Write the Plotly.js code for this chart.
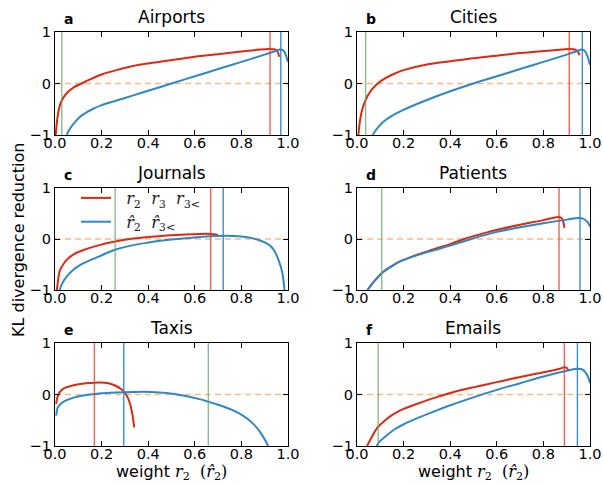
<!DOCTYPE html>
<html>
<head>
<meta charset="utf-8">
<script src="https://cdn.plot.ly/plotly-3.0.1.min.js"></script>
<style>
html,body{margin:0;padding:0;background:#fff;}
#chart{width:604px;height:485px;}
</style>
</head>
<body>
<div id="chart"></div>
<script>
// ---- data ----
const panelNames = ["Airports", "Cities", "Journals", "Patients", "Taxis", "Emails"];
const panelLetters = ["a", "b", "c", "d", "e", "f"];

// red curves: r2 r3 r3<   ; blue curves: r2^ r3<^
const redX_a = [0.003, 0.01, 0.021, 0.029, 0.05, 0.079, 0.114, 0.15, 0.2, 0.264, 0.336, 0.4, 0.48, 0.6, 0.7, 0.8, 0.88, 0.92, 0.945, 0.955, 0.962];
const redY_a = [-1.0, -0.68, -0.42, -0.33, -0.19, -0.08, 0.0, 0.08, 0.175, 0.26, 0.34, 0.39, 0.44, 0.52, 0.57, 0.62, 0.66, 0.67, 0.66, 0.62, 0.52];
const blueX_a = [0.05, 0.064, 0.093, 0.121, 0.16, 0.2, 0.264, 0.336, 0.4, 0.5, 0.6, 0.7, 0.8, 0.9, 0.94, 0.965, 0.98, 0.99, 1.0];
const blueY_a = [-1.0, -0.88, -0.71, -0.6, -0.5, -0.42, -0.33, -0.23, -0.14, 0.0, 0.14, 0.28, 0.42, 0.56, 0.62, 0.66, 0.64, 0.56, 0.42];

const redX_b = [0.006, 0.012, 0.02, 0.037, 0.06, 0.084, 0.12, 0.16, 0.2, 0.3, 0.4, 0.5, 0.6, 0.7, 0.8, 0.88, 0.91, 0.935, 0.948, 0.955];
const redY_b = [-1.0, -0.75, -0.55, -0.32, -0.14, -0.02, 0.1, 0.19, 0.26, 0.37, 0.43, 0.49, 0.54, 0.59, 0.63, 0.66, 0.67, 0.66, 0.62, 0.55];
const blueX_b = [0.067, 0.09, 0.12, 0.16, 0.2, 0.3, 0.4, 0.5, 0.6, 0.7, 0.8, 0.9, 0.94, 0.965, 0.98, 0.99, 1.0];
const blueY_b = [-1.0, -0.85, -0.72, -0.6, -0.51, -0.32, -0.15, 0.0, 0.14, 0.28, 0.42, 0.56, 0.62, 0.66, 0.62, 0.52, 0.36];

const redX_c = [0.008, 0.014, 0.02, 0.035, 0.05, 0.08, 0.12, 0.19, 0.258, 0.336, 0.4, 0.48, 0.56, 0.62, 0.67, 0.69, 0.7];
const redY_c = [-1.0, -0.78, -0.63, -0.5, -0.41, -0.3, -0.22, -0.12, -0.05, 0.01, 0.04, 0.07, 0.09, 0.1, 0.1, 0.09, 0.08];
const blueX_c = [0.02, 0.03, 0.05, 0.08, 0.12, 0.19, 0.258, 0.336, 0.4, 0.48, 0.55, 0.62, 0.7, 0.765, 0.82, 0.88, 0.92, 0.94, 0.96, 0.975, 0.985];
const blueY_c = [-1.0, -0.88, -0.74, -0.6, -0.48, -0.34, -0.21, -0.12, -0.07, -0.02, 0.01, 0.04, 0.06, 0.06, 0.04, -0.03, -0.12, -0.22, -0.42, -0.65, -1.0];

const redX_d = [0.045, 0.07, 0.106, 0.15, 0.185, 0.25, 0.33, 0.4, 0.46, 0.55, 0.62, 0.7, 0.8, 0.85, 0.867, 0.88, 0.89];
const redY_d = [-1.0, -0.85, -0.67, -0.53, -0.44, -0.32, -0.2, -0.1, 0.0, 0.12, 0.2, 0.28, 0.37, 0.42, 0.43, 0.4, 0.22];
const blueX_d = [0.045, 0.07, 0.106, 0.15, 0.185, 0.25, 0.33, 0.4, 0.49, 0.6, 0.7, 0.8, 0.9, 0.95, 0.97, 0.99, 1.0];
const blueY_d = [-1.0, -0.85, -0.67, -0.53, -0.44, -0.33, -0.22, -0.13, 0.0, 0.14, 0.23, 0.31, 0.38, 0.41, 0.4, 0.33, 0.24];

const redX_e = [0.005, 0.008, 0.012, 0.021, 0.035, 0.05, 0.1, 0.169, 0.23, 0.26, 0.285, 0.305, 0.322, 0.334, 0.34];
const redY_e = [-0.18, -0.1, -0.03, 0.05, 0.11, 0.14, 0.2, 0.23, 0.22, 0.17, 0.1, 0.0, -0.18, -0.44, -0.64];
const blueX_e = [0.005, 0.008, 0.012, 0.02, 0.03, 0.05, 0.08, 0.12, 0.19, 0.26, 0.336, 0.41, 0.48, 0.55, 0.62, 0.658, 0.7, 0.765, 0.81, 0.851, 0.885, 0.915];
const blueY_e = [-0.41, -0.32, -0.25, -0.2, -0.16, -0.11, -0.06, -0.02, 0.02, 0.04, 0.05, 0.05, 0.03, -0.02, -0.09, -0.14, -0.2, -0.31, -0.42, -0.57, -0.76, -1.0];

const redX_f = [0.043, 0.064, 0.09, 0.121, 0.15, 0.2, 0.264, 0.336, 0.4, 0.49, 0.6, 0.7, 0.8, 0.87, 0.89, 0.9, 0.907];
const redY_f = [-1.0, -0.82, -0.63, -0.5, -0.4, -0.28, -0.17, -0.06, 0.03, 0.13, 0.24, 0.34, 0.43, 0.5, 0.53, 0.52, 0.46];
const blueX_f = [0.083, 0.1, 0.121, 0.16, 0.2, 0.264, 0.336, 0.4, 0.49, 0.6, 0.7, 0.8, 0.9, 0.946, 0.97, 0.99, 1.0];
const blueY_f = [-1.0, -0.9, -0.82, -0.68, -0.58, -0.45, -0.32, -0.21, -0.07, 0.09, 0.22, 0.35, 0.46, 0.5, 0.48, 0.36, 0.22];

// vertical markers per panel (a..f)
const greenV = [0.029, 0.037, 0.258, 0.106, 0.658, 0.091];
const redV   = [0.923, 0.911, 0.668, 0.867, 0.169, 0.89];
const blueV  = [0.969, 0.967, 0.722, 0.957, 0.295, 0.946];

const xTickVals = [0, 0.2, 0.4, 0.6, 0.8, 1.0];
const xTickText = ["0.0", "0.2", "0.4", "0.6", "0.8", "1.0"];
const yTickVals = [-1, 0, 1];
const yTickText = ["\u22121", "0", "1"];

const redXs = [redX_a, redX_b, redX_c, redX_d, redX_e, redX_f];
const redYs = [redY_a, redY_b, redY_c, redY_d, redY_e, redY_f];
const blueXs = [blueX_a, blueX_b, blueX_c, blueX_d, blueX_e, blueX_f];
const blueYs = [blueY_a, blueY_b, blueY_c, blueY_d, blueY_e, blueY_f];

// ---- styling / layout ----
const RED = "#dc2a12";
const BLUE = "#2f88c6";
const W = 604, H = 485;
const colPx = [[55, 288], [357, 590]];
const rowPx = [[32, 135], [188, 290], [343, 446]];
const FONT = "DejaVu Sans, sans-serif";
const MATH = "DejaVu Serif, serif";

const traces = [];
const layout = {
  width: W, height: H,
  margin: {l: 0, r: 0, t: 0, b: 0},
  paper_bgcolor: "#fff", plot_bgcolor: "#fff",
  showlegend: true,
  legend: {
    x: 76 / W, y: 1 - 181 / H, xanchor: "left", yanchor: "top",
    bgcolor: "rgba(0,0,0,0)", borderwidth: 0,
    font: {family: MATH, size: 16, color: "#222"},
    traceorder: "grouped", tracegroupgap: 0, itemwidth: 30
  },
  shapes: [], annotations: [],
  font: {family: FONT, color: "#000"}
};

for (let i = 0; i < 6; i++) {
  const row = Math.floor(i / 2), col = i % 2;
  const sfx = i === 0 ? "" : String(i + 1);
  const xa = "x" + sfx, ya = "y" + sfx;
  const xd = [colPx[col][0] / W, colPx[col][1] / W];
  const yd = [1 - rowPx[row][1] / H, 1 - rowPx[row][0] / H];
  const axCommon = {
    showline: true, linecolor: "#000", linewidth: 1.2, mirror: "ticks",
    ticks: "inside", ticklen: 5, tickwidth: 1, tickcolor: "#000",
    showgrid: false, zeroline: false, fixedrange: true,
    tickfont: {family: FONT, size: 14.5, color: "#000"}
  };
  layout["xaxis" + sfx] = Object.assign({}, axCommon, {
    domain: xd, anchor: ya, range: [0, 1],
    tickvals: xTickVals, ticktext: xTickText, ticklabelstandoff: -6
  });
  layout["yaxis" + sfx] = Object.assign({}, axCommon, {
    domain: yd, anchor: xa, range: [-1, 1],
    tickvals: yTickVals, ticktext: yTickText
  });

  traces.push({
    type: "scatter", mode: "lines", x: redXs[i], y: redYs[i], xaxis: xa, yaxis: ya,
    line: {color: RED, width: 2, shape: "spline", smoothing: 1},
    name: "&nbsp;&nbsp;<i>r</i><sub>2</sub>  <i>r</i><sub>3</sub>  <i>r</i><sub>3&lt;</sub>",
    legendgroup: "g1", showlegend: i === 2, hoverinfo: "skip"
  });
  traces.push({
    type: "scatter", mode: "lines", x: blueXs[i], y: blueYs[i], xaxis: xa, yaxis: ya,
    line: {color: BLUE, width: 2, shape: "spline", smoothing: 1},
    name: "&nbsp;&nbsp;<i>r\u0302</i><sub>2</sub>  <i>r\u0302</i><sub>3&lt;</sub>",
    legendgroup: "g2", showlegend: i === 2, hoverinfo: "skip"
  });

  // dashed zero line
  layout.shapes.push({
    type: "line", xref: xa + " domain", yref: ya, x0: 0, x1: 1, y0: 0, y1: 0,
    line: {color: "rgba(255,160,90,0.75)", width: 1.3, dash: "6px,4px"}, layer: "below"
  });
  // vertical markers
  const vdefs = [[greenV[i], "rgba(100,165,100,0.75)"], [redV[i], "rgba(230,60,45,0.8)"], [blueV[i], "rgba(40,130,200,0.9)"]];
  vdefs.forEach(([v, c]) => {
    layout.shapes.push({
      type: "line", xref: xa, yref: ya + " domain", x0: v, x1: v, y0: 0, y1: 1,
      line: {color: c, width: 1.4}, layer: "above"
    });
  });

  // panel title
  layout.annotations.push({
    xref: "paper", yref: "paper", x: (xd[0] + xd[1]) / 2, y: 1 - (rowPx[row][0] - 15) / H,
    text: panelNames[i], showarrow: false, xanchor: "center", yanchor: "middle",
    font: {family: FONT, size: 17, color: "#000"}
  });
  // panel letter
  layout.annotations.push({
    xref: "paper", yref: "paper", x: (colPx[col][0] + 7) / W, y: 1 - (rowPx[row][0] - 13) / H,
    text: "<b>" + panelLetters[i] + "</b>", showarrow: false, xanchor: "left", yanchor: "middle",
    font: {family: FONT, size: 14, color: "#000"}
  });
}

// shared axis titles
layout.annotations.push({
  xref: "paper", yref: "paper", x: 18 / W, y: 1 - 240 / H,
  text: "KL divergence reduction", textangle: -90, showarrow: false,
  xanchor: "center", yanchor: "middle", font: {family: FONT, size: 16, color: "#000"}
});
[0, 1].forEach(col => {
  layout.annotations.push({
    xref: "paper", yref: "paper", x: (colPx[col][0] + colPx[col][1]) / 2 / W, y: 0,
    text: "weight <span style=\"font-family:DejaVu Serif\"><i>r</i><sub>2</sub>  (<i>r\u0302</i><sub>2</sub>)</span>",
    showarrow: false,
    xanchor: "center", yanchor: "bottom", font: {family: FONT, size: 16, color: "#000"}
  });
});

Plotly.newPlot("chart", traces, layout, {displayModeBar: false, staticPlot: true});
</script>
</body>
</html>
